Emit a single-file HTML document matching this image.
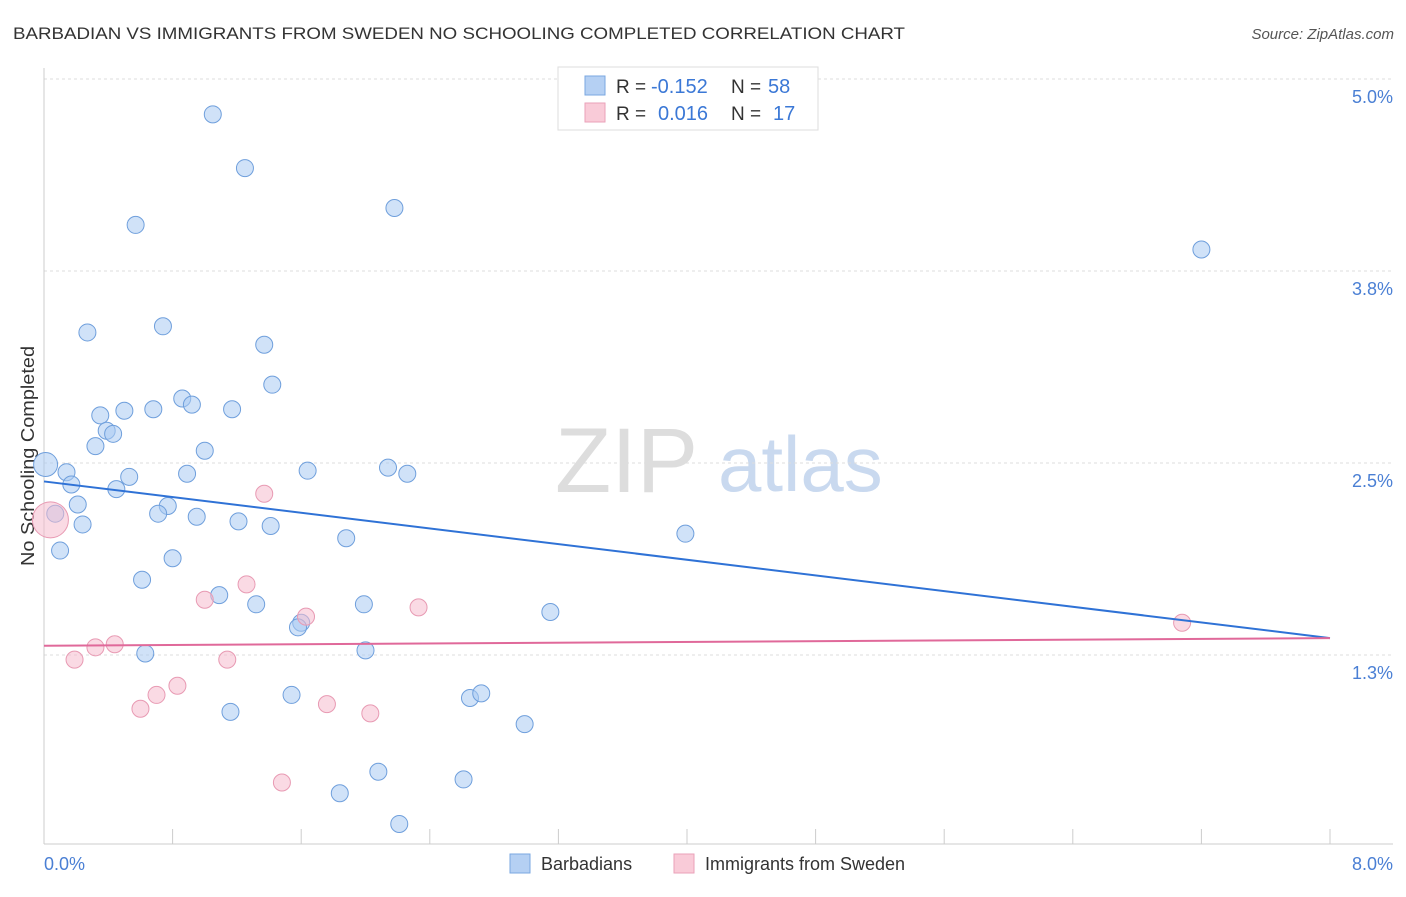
<!DOCTYPE html>
<html><head><meta charset="utf-8"><style>
body{margin:0;background:#fff;font-family:"Liberation Sans",sans-serif}
svg text{font-family:"Liberation Sans",sans-serif}
</style></head><body>
<svg id="chart" width="1406" height="892" xmlns="http://www.w3.org/2000/svg">
<text x="13" y="39" font-size="17" fill="#333" textLength="892" lengthAdjust="spacingAndGlyphs">BARBADIAN VS IMMIGRANTS FROM SWEDEN NO SCHOOLING COMPLETED CORRELATION CHART</text>
<text x="1394" y="39" font-size="15" fill="#555" text-anchor="end" font-style="italic">Source: ZipAtlas.com</text>
<text x="555" y="492" font-size="92" fill="#ddd" font-family="Liberation Serif">ZIP</text>
<text x="718" y="491" font-size="78" fill="#c9d9ef">atlas</text>
<g id="grid"></g>
<line x1="44" y1="68" x2="44" y2="844" stroke="#ccc"/>
<line x1="44" y1="844" x2="1393" y2="844" stroke="#ccc"/>
<g id="xticks"></g>
<text transform="translate(34,456) rotate(-90)" font-size="18" fill="#333" text-anchor="middle" textLength="220" lengthAdjust="spacingAndGlyphs">No Schooling Completed</text>
<text x="44" y="870" font-size="18" fill="#4a7fd4">0.0%</text>
<text x="1393" y="870" font-size="18" fill="#4a7fd4" text-anchor="end">8.0%</text>
<g id="points"></g>
<g id="lines"></g>
<g>
<rect x="558" y="67" width="260" height="63" fill="#fff" stroke="#ddd"/>
<rect x="585" y="76" width="20" height="19" fill="#b5d0f3" stroke="#7aa7e0"/>
<rect x="585" y="103" width="20" height="19" fill="#f9cbd8" stroke="#eaa1b9"/>
<text x="616" y="93" font-size="19" fill="#333">R =</text>
<text x="651" y="93" font-size="20" fill="#3b78d6">-0.152</text>
<text x="731" y="93" font-size="19" fill="#333">N =</text>
<text x="768" y="93" font-size="20" fill="#3b78d6">58</text>
<text x="616" y="120" font-size="19" fill="#333">R =</text>
<text x="658" y="120" font-size="20" fill="#3b78d6">0.016</text>
<text x="731" y="120" font-size="19" fill="#333">N =</text>
<text x="773" y="120" font-size="20" fill="#3b78d6">17</text>
</g>
<g>
<rect x="510" y="854" width="20" height="19" fill="#b5d0f3" stroke="#7aa7e0"/>
<text x="541" y="870" font-size="18" fill="#333">Barbadians</text>
<rect x="674" y="854" width="20" height="19" fill="#f9cbd8" stroke="#eaa1b9"/>
<text x="705" y="870" font-size="18" fill="#333">Immigrants from Sweden</text>
</g>
</svg>
<script>
const yTicks=[1.25,2.5,3.75,5.0];
const yTickLabels=["1.3%","2.5%","3.8%","5.0%"];
const xTicks=[0,0.8,1.6,2.4,3.2,4.0,4.8,5.6,6.4,7.2,8.0];
const blueX=[1.05,1.25,0.57,2.18,7.20,0.27,0.74,1.37,1.42,0.86,0.92,1.17,0.68,0.50,0.35,0.39,0.43,0.32,1.00,0.01,0.14,0.17,0.53,0.89,1.64,2.14,2.26,0.45,0.21,0.77,0.71,0.07,0.95,1.21,1.41,0.24,1.88,3.99,0.10,0.80,0.61,1.09,1.32,1.99,3.15,1.60,1.58,0.63,2.00,1.54,2.65,2.72,1.16,2.99,2.08,2.61,1.84,2.21];
const blueY=[4.77,4.42,4.05,4.16,3.89,3.35,3.39,3.27,3.01,2.92,2.88,2.85,2.85,2.84,2.81,2.71,2.69,2.61,2.58,2.49,2.44,2.36,2.41,2.43,2.45,2.47,2.43,2.33,2.23,2.22,2.17,2.17,2.15,2.12,2.09,2.10,2.01,2.04,1.93,1.88,1.74,1.64,1.58,1.58,1.53,1.46,1.43,1.26,1.28,0.99,0.97,1.00,0.88,0.80,0.49,0.44,0.35,0.15];
const pinkX=[0.04,1.37,1.26,1.00,2.33,1.63,0.32,0.44,0.19,1.14,0.83,0.70,0.60,1.76,2.03,1.48,7.08];
const pinkY=[2.13,2.30,1.71,1.61,1.56,1.50,1.30,1.32,1.22,1.22,1.05,0.99,0.90,0.93,0.87,0.42,1.46];
const blueTrend=[2.38,1.36];
const pinkTrend=[1.31,1.36];
const NS="http://www.w3.org/2000/svg";
const sx=v=>44+v*160.75, sy=v=>847-v*153.6;
function mk(t,a,p){const e=document.createElementNS(NS,t);for(const k in a)e.setAttribute(k,a[k]);document.getElementById(p).appendChild(e);return e;}
yTicks.forEach((v,i)=>{
 const l=mk('line',{x1:44,x2:1393,y1:sy(v),y2:sy(v),stroke:'#ddd','stroke-dasharray':'3,3'},'grid');
 
 
 const t=mk('text',{x:1393,y:sy(v)+24,'font-size':18,fill:'#4a7fd4','text-anchor':'end'},'grid');
 t.textContent=yTickLabels[i];
 
 
});
mk('line',{x1:44,x2:1393,y1:79,y2:79,stroke:'#ddd','stroke-dasharray':'3,3'},'grid');
xTicks.forEach(v=>{
 const l=mk('line',{x1:sx(v),x2:sx(v),y1:829,y2:844,stroke:'#ccc'},'xticks');
 
 
});
function pts(X,Y,fill,stroke,name){
 X.forEach((x,i)=>{
  const c=mk('circle',{cx:sx(x),cy:sy(Y[i]),r:8.5,fill:fill,stroke:stroke,'stroke-width':1},'points');
  
  
 });
}
pts(blueX,blueY,'rgba(170,202,242,0.55)','#6f9fdc','barbadian-point');
pts(pinkX,pinkY,'rgba(246,188,206,0.55)','#e89ab3','sweden-point');
document.querySelectorAll('#points circle')[19].setAttribute('r',12);
document.querySelectorAll('#points circle')[58].setAttribute('r',18);
const b=mk('line',{x1:sx(0),y1:sy(blueTrend[0]),x2:sx(8),y2:sy(blueTrend[1]),stroke:'#2f72d6','stroke-width':2},'lines');


const p=mk('line',{x1:sx(0),y1:sy(pinkTrend[0]),x2:sx(8),y2:sy(pinkTrend[1]),stroke:'#e0699a','stroke-width':2},'lines');


</script>
</body></html>
